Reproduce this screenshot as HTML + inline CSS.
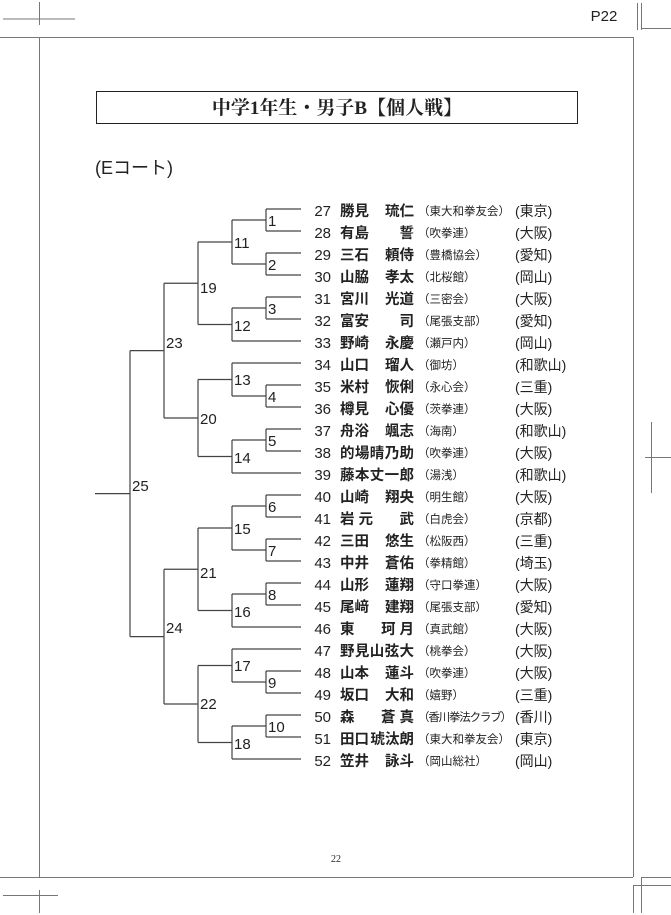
<!DOCTYPE html>
<html><head><meta charset="utf-8"><style>
html,body{margin:0;padding:0;background:#fff;}
svg{display:block;}
text{font-family:"Liberation Sans","Noto Sans CJK JP",sans-serif;fill:#222;}
.j{font-size:14.5px;font-weight:bold;}
.n{font-size:15px;}
.c{font-size:11.5px;}
.p{font-size:14px;}
.l{font-size:15px;}
</style></head><body>
<svg id="s" width="671" height="915" viewBox="0 0 671 915" xmlns="http://www.w3.org/2000/svg">
<g stroke="#777" stroke-width="1" fill="none">
<line x1="3" y1="19" x2="75" y2="19"/><line x1="39.5" y1="2" x2="39.5" y2="25"/>
<line x1="0" y1="37.5" x2="633" y2="37.5"/><line x1="39.5" y1="37" x2="39.5" y2="877"/>
<line x1="633.5" y1="37" x2="633.5" y2="877"/><line x1="0" y1="877.5" x2="633" y2="877.5"/>
<line x1="637.5" y1="3" x2="637.5" y2="30"/><line x1="641.5" y1="3" x2="641.5" y2="30"/><line x1="641" y1="28.5" x2="671" y2="28.5"/>
<line x1="3" y1="895.5" x2="58" y2="895.5"/><line x1="39.5" y1="890" x2="39.5" y2="913"/>
<line x1="641" y1="877.5" x2="671" y2="877.5"/><line x1="633" y1="885.5" x2="671" y2="885.5"/>
<line x1="633.5" y1="885" x2="633.5" y2="913"/><line x1="641.5" y1="877" x2="641.5" y2="913"/>
<line x1="651.5" y1="422" x2="651.5" y2="493"/><line x1="645" y1="457.5" x2="671" y2="457.5"/>
</g>
<text x="604" y="21" text-anchor="middle" style="font-size:15px">P22</text>
<rect x="96.5" y="91.5" width="481" height="32" fill="none" stroke="#222" stroke-width="1"/>
<text x="337" y="114" text-anchor="middle" style="font-family:'Liberation Serif','Noto Serif CJK SC',serif;font-size:19px;font-weight:bold">中学1年生・男子B【個人戦】</text>
<text x="95" y="174" style="font-size:18px">(Eコート)</text>
<text x="336" y="862" text-anchor="middle" style="font-family:'Liberation Serif',serif;font-size:10px">22</text>
<g id="br" stroke="#444" stroke-width="1.2" fill="none"></g>
<g class="l">
<text x="268" y="226">1</text><text x="268" y="270">2</text><text x="268" y="314">3</text><text x="268" y="402">4</text><text x="268" y="446">5</text>
<text x="268" y="512">6</text><text x="268" y="556">7</text><text x="268" y="600">8</text><text x="268" y="688">9</text><text x="268" y="732">10</text>
<text x="234" y="248">11</text><text x="234" y="331">12</text><text x="234" y="385">13</text><text x="234" y="463">14</text>
<text x="234" y="534">15</text><text x="234" y="617">16</text><text x="234" y="671">17</text><text x="234" y="749">18</text>
<text x="200" y="293">19</text><text x="200" y="424">20</text><text x="200" y="578">21</text><text x="200" y="709">22</text>
<text x="166" y="348">23</text><text x="166" y="633">24</text><text x="132" y="491">25</text>
</g>
<g>
<text class="n" x="331" y="216" text-anchor="end">27</text><text class="j" x="340" y="216">勝見</text><text class="j" x="414" y="216" text-anchor="end">琉仁</text><text class="c" x="418" y="215">（東大和拳友会）</text><text class="p" x="515" y="216">(東京)</text>
<text class="n" x="331" y="238" text-anchor="end">28</text><text class="j" x="340" y="238">有島</text><text class="j" x="414" y="238" text-anchor="end">誓</text><text class="c" x="418" y="237">（吹拳連）</text><text class="p" x="515" y="238">(大阪)</text>
<text class="n" x="331" y="260" text-anchor="end">29</text><text class="j" x="340" y="260">三石</text><text class="j" x="414" y="260" text-anchor="end">頼侍</text><text class="c" x="418" y="259">（豊橋協会）</text><text class="p" x="515" y="260">(愛知)</text>
<text class="n" x="331" y="282" text-anchor="end">30</text><text class="j" x="340" y="282">山脇</text><text class="j" x="414" y="282" text-anchor="end">孝太</text><text class="c" x="418" y="281">（北桜館）</text><text class="p" x="515" y="282">(岡山)</text>
<text class="n" x="331" y="304" text-anchor="end">31</text><text class="j" x="340" y="304">宮川</text><text class="j" x="414" y="304" text-anchor="end">光道</text><text class="c" x="418" y="303">（三密会）</text><text class="p" x="515" y="304">(大阪)</text>
<text class="n" x="331" y="326" text-anchor="end">32</text><text class="j" x="340" y="326">富安</text><text class="j" x="414" y="326" text-anchor="end">司</text><text class="c" x="418" y="325">（尾張支部）</text><text class="p" x="515" y="326">(愛知)</text>
<text class="n" x="331" y="348" text-anchor="end">33</text><text class="j" x="340" y="348">野崎</text><text class="j" x="414" y="348" text-anchor="end">永慶</text><text class="c" x="418" y="347">（瀬戸内）</text><text class="p" x="515" y="348">(岡山)</text>
<text class="n" x="331" y="370" text-anchor="end">34</text><text class="j" x="340" y="370">山口</text><text class="j" x="414" y="370" text-anchor="end">瑠人</text><text class="c" x="418" y="369">（御坊）</text><text class="p" x="515" y="370">(和歌山)</text>
<text class="n" x="331" y="392" text-anchor="end">35</text><text class="j" x="340" y="392">米村</text><text class="j" x="414" y="392" text-anchor="end">恢俐</text><text class="c" x="418" y="391">（永心会）</text><text class="p" x="515" y="392">(三重)</text>
<text class="n" x="331" y="414" text-anchor="end">36</text><text class="j" x="340" y="414">樽見</text><text class="j" x="414" y="414" text-anchor="end">心優</text><text class="c" x="418" y="413">（茨拳連）</text><text class="p" x="515" y="414">(大阪)</text>
<text class="n" x="331" y="436" text-anchor="end">37</text><text class="j" x="340" y="436">舟浴</text><text class="j" x="414" y="436" text-anchor="end">颯志</text><text class="c" x="418" y="435">（海南）</text><text class="p" x="515" y="436">(和歌山)</text>
<text class="n" x="331" y="458" text-anchor="end">38</text><text class="j" x="340" y="458" textLength="74">的場晴乃助</text><text class="c" x="418" y="457">（吹拳連）</text><text class="p" x="515" y="458">(大阪)</text>
<text class="n" x="331" y="480" text-anchor="end">39</text><text class="j" x="340" y="480" textLength="74">藤本丈一郎</text><text class="c" x="418" y="479">（湯浅）</text><text class="p" x="515" y="480">(和歌山)</text>
<text class="n" x="331" y="502" text-anchor="end">40</text><text class="j" x="340" y="502">山崎</text><text class="j" x="414" y="502" text-anchor="end">翔央</text><text class="c" x="418" y="501">（明生館）</text><text class="p" x="515" y="502">(大阪)</text>
<text class="n" x="331" y="524" text-anchor="end">41</text><text class="j" x="340" y="524">岩 元</text><text class="j" x="414" y="524" text-anchor="end">武</text><text class="c" x="418" y="523">（白虎会）</text><text class="p" x="515" y="524">(京都)</text>
<text class="n" x="331" y="546" text-anchor="end">42</text><text class="j" x="340" y="546">三田</text><text class="j" x="414" y="546" text-anchor="end">悠生</text><text class="c" x="418" y="545">（松阪西）</text><text class="p" x="515" y="546">(三重)</text>
<text class="n" x="331" y="568" text-anchor="end">43</text><text class="j" x="340" y="568">中井</text><text class="j" x="414" y="568" text-anchor="end">蒼佑</text><text class="c" x="418" y="567">（拳精館）</text><text class="p" x="515" y="568">(埼玉)</text>
<text class="n" x="331" y="590" text-anchor="end">44</text><text class="j" x="340" y="590">山形</text><text class="j" x="414" y="590" text-anchor="end">蓮翔</text><text class="c" x="418" y="589">（守口拳連）</text><text class="p" x="515" y="590">(大阪)</text>
<text class="n" x="331" y="612" text-anchor="end">45</text><text class="j" x="340" y="612">尾﨑</text><text class="j" x="414" y="612" text-anchor="end">建翔</text><text class="c" x="418" y="611">（尾張支部）</text><text class="p" x="515" y="612">(愛知)</text>
<text class="n" x="331" y="634" text-anchor="end">46</text><text class="j" x="340" y="634">東</text><text class="j" x="414" y="634" text-anchor="end">珂 月</text><text class="c" x="418" y="633">（真武館）</text><text class="p" x="515" y="634">(大阪)</text>
<text class="n" x="331" y="656" text-anchor="end">47</text><text class="j" x="340" y="656" textLength="74">野見山弦大</text><text class="c" x="418" y="655">（桃拳会）</text><text class="p" x="515" y="656">(大阪)</text>
<text class="n" x="331" y="678" text-anchor="end">48</text><text class="j" x="340" y="678">山本</text><text class="j" x="414" y="678" text-anchor="end">蓮斗</text><text class="c" x="418" y="677">（吹拳連）</text><text class="p" x="515" y="678">(大阪)</text>
<text class="n" x="331" y="700" text-anchor="end">49</text><text class="j" x="340" y="700">坂口</text><text class="j" x="414" y="700" text-anchor="end">大和</text><text class="c" x="418" y="699">（嬉野）</text><text class="p" x="515" y="700">(三重)</text>
<text class="n" x="331" y="722" text-anchor="end">50</text><text class="j" x="340" y="722">森</text><text class="j" x="414" y="722" text-anchor="end">蒼 真</text><text class="c" x="418" y="721" textLength="94">（香川拳法クラブ）</text><text class="p" x="515" y="722">(香川)</text>
<text class="n" x="331" y="744" text-anchor="end">51</text><text class="j" x="340" y="744">田口</text><text class="j" x="414" y="744" text-anchor="end">琥汰朗</text><text class="c" x="418" y="743">（東大和拳友会）</text><text class="p" x="515" y="744">(東京)</text>
<text class="n" x="331" y="766" text-anchor="end">52</text><text class="j" x="340" y="766">笠井</text><text class="j" x="414" y="766" text-anchor="end">詠斗</text><text class="c" x="418" y="765">（岡山総社）</text><text class="p" x="515" y="766">(岡山)</text>
</g>
</svg>
<script>
(function(){
var X=[301,266,232,198,164,130];
function Y(n){return 209+22*(n-27);}
var g=document.getElementById('br'),d='';
function draw(node,px){
  var y,x;
  if(typeof node==='number'){y=Y(node);d+='M'+px+' '+y+'H301';return y;}
  x=X[node[0]];
  var a=draw(node[1],x),b=draw(node[2],x);
  d+='M'+x+' '+a+'V'+b;
  y=(a+b)/2;
  if(px!==null)d+='M'+px+' '+y+'H'+x;
  return y;
}
var t=[5,
 [4,[3,[2,[1,27,28],[1,29,30]],[2,[1,31,32],33]],[3,[2,34,[1,35,36]],[2,[1,37,38],39]]],
 [4,[3,[2,[1,40,41],[1,42,43]],[2,[1,44,45],46]],[3,[2,47,[1,48,49]],[2,[1,50,51],52]]]];
var r=draw(t,null);
d+='M95 '+r+'H130';
var p=document.createElementNS('http://www.w3.org/2000/svg','path');
p.setAttribute('d',d);g.appendChild(p);
})();
</script>
</body></html>
